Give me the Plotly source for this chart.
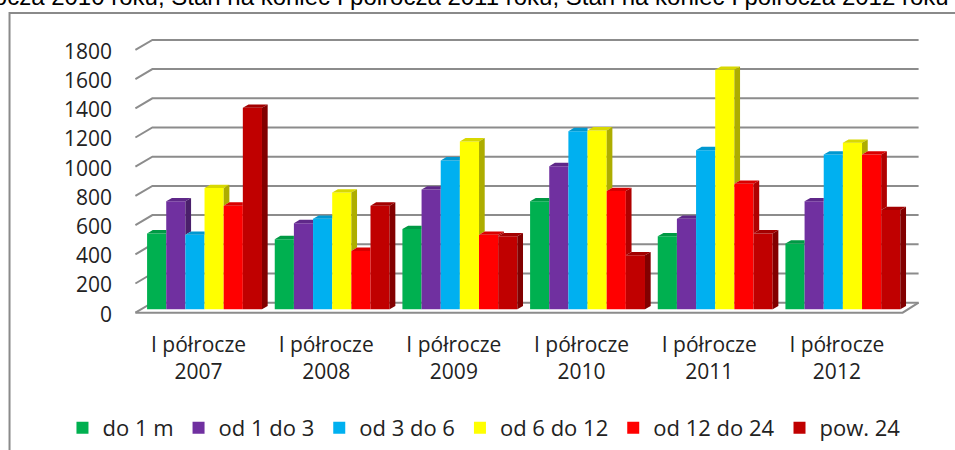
import plotly.graph_objects as go

# ---------------- data ----------------
categories = ["I półrocze<br>2007", "I półrocze<br>2008", "I półrocze<br>2009",
              "I półrocze<br>2010", "I półrocze<br>2011", "I półrocze<br>2012"]
series_names = ["do 1 m", "od 1 do 3", "od 3 do 6", "od 6 do 12", "od 12 do 24", "pow. 24"]
do_1m       = [520, 480, 550, 740, 500, 450]
od_1_do_3   = [740, 590, 820, 980, 620, 740]
od_3_do_6   = [510, 620, 1020, 1220, 1090, 1060]
od_6_do_12  = [830, 800, 1150, 1225, 1640, 1140]
od_12_do_24 = [710, 400, 510, 810, 860, 1060]
pow_24      = [1380, 710, 500, 370, 520, 680]
y_ticks = [0, 200, 400, 600, 800, 1000, 1200, 1400, 1600, 1800]
title_text = ("Stan na koniec I półrocza 2010 roku, Stan na koniec I półrocza 2011 roku, "
              "Stan na koniec I półrocza 2012 roku")

series_values = [do_1m, od_1_do_3, od_3_do_6, od_6_do_12, od_12_do_24, pow_24]
front_colors = ["#00B050", "#7030A0", "#00B0F0", "#FFFF00", "#FF0000", "#C00000"]
top_colors   = ["#009944", "#5f2889", "#0098d0", "#d8d800", "#d90000", "#a30000"]
side_colors  = ["#007a36", "#4a1f6b", "#0079a8", "#adad00", "#b00000", "#820000"]

# ---------------- geometry (pixels) ----------------
W, H = 955, 450
ML, MR, MT, MB = 132.6, 32.6, 35, 120
PLOT_W = W - ML - MR
PLOT_H = H - MT - MB
PX_PER_X = 127.8
X0_PX = 204.2
PX_PER_Y = 0.146
Y0_PX = 309.3


def xd(px):
    return (px - X0_PX) / PX_PER_X


def yd(py):
    return (Y0_PX - py) / PX_PER_Y


def px_paper_x(px):
    return (px - ML) / PLOT_W


def px_paper_y(py):
    return (H - MB - py) / PLOT_H


x_range = [xd(ML), xd(W - MR)]
y_range = [yd(H - MB), yd(MT)]

BARGAP = 0.1
n_ser = len(series_values)
bar_w = (1 - BARGAP) / n_ser
DX = 5.7 / PX_PER_X
DY = 3.35 / PX_PER_Y
FRONT_OFF = yd(312.7)
BACK_OFF = yd(302.7)

fig = go.Figure()
xs = list(range(len(categories)))
for name, vals, col in zip(series_names, series_values, front_colors):
    fig.add_trace(go.Bar(x=xs, y=vals, name=name, marker=dict(color=col, line=dict(width=0)),
                         hoverinfo="skip"))

# 3D top and side faces computed from data values
for j, (vals, tcol, scol) in enumerate(zip(series_values, top_colors, side_colors)):
    tx, ty, sx, sy = [], [], [], []
    for i, v in enumerate(vals):
        xl = i - (1 - BARGAP) / 2 + bar_w * j
        xr = xl + bar_w
        v_next = series_values[j + 1][i] if j + 1 < n_ser else 0
        if v_next >= v:
            tx += [xl, xr, xr, xl + DX, xl, None]
            ty += [v, v, v + DY, v + DY, v, None]
        else:
            tx += [xl, xr, xr + DX, xl + DX, xl, None]
            ty += [v, v, v + DY, v + DY, v, None]
            sx += [xr, xr, xr + DX, xr + DX, xr, None]
            sy += [v_next, v, v + DY, v_next + DY, v_next, None]
    fig.add_trace(go.Scatter(x=tx, y=ty, fill="toself", fillcolor=tcol, mode="lines",
                             line=dict(width=0, color=tcol), showlegend=False, hoverinfo="skip"))
    if sx:
        fig.add_trace(go.Scatter(x=sx, y=sy, fill="toself", fillcolor=scol, mode="lines",
                                 line=dict(width=0, color=scol), showlegend=False, hoverinfo="skip"))

# back-wall gridlines and floor
shapes = []
GRID_COL = "#8c8c8c"
for v in y_ticks:
    path = (f"M {xd(135)},{v + FRONT_OFF} L {xd(152)},{v + BACK_OFF} "
            f"L {xd(919)},{v + BACK_OFF}")
    shapes.append(dict(type="path", path=path, xref="x", yref="y", layer="below",
                       line=dict(color=GRID_COL, width=2)))
floor = (f"M {xd(135)},{FRONT_OFF} L {xd(903)},{FRONT_OFF} L {xd(919)},{BACK_OFF}")
shapes.append(dict(type="path", path=floor, xref="x", yref="y", layer="below",
                   line=dict(color=GRID_COL, width=2)))
# outer frame
shapes.append(dict(type="rect", xref="paper", yref="paper",
                   x0=px_paper_x(9), x1=px_paper_x(990), y0=px_paper_y(480), y1=px_paper_y(13),
                   line=dict(color="#8a8a8a", width=2), layer="below"))

fig.update_layout(
    width=W, height=H,
    margin=dict(l=ML, r=MR, t=MT, b=MB, pad=0, autoexpand=False),
    paper_bgcolor="white", plot_bgcolor="white",
    barmode="group", bargap=BARGAP, bargroupgap=0,
    font=dict(family="Open Sans", size=21, color="#222222"),
    shapes=shapes,
    xaxis=dict(range=x_range, tickmode="array", tickvals=xs, ticktext=categories,
               showgrid=False, zeroline=False, showline=False, ticks="", automargin=False,
               ticklabelshift=-6, ticklabelstandoff=0),
    yaxis=dict(range=y_range, tickmode="array", tickvals=y_ticks,
               ticktext=[str(t) for t in y_ticks], automargin=False,
               showgrid=False, zeroline=False, showline=False, ticks="",
               ticklabelshift=5, ticklabelstandoff=20),
    legend=dict(orientation="h", xref="paper", xanchor="left", x=px_paper_x(62),
                yanchor="middle", y=px_paper_y(428), font=dict(size=22),
                itemwidth=30, traceorder="normal"),
    annotations=[dict(text=title_text, xref="paper", yref="paper",
                      x=px_paper_x(951), y=px_paper_y(12.5), xanchor="right", yanchor="bottom",
                      showarrow=False, font=dict(family="Liberation Sans", size=24, color="black"))],
)

fig.write_html("out.html", config={"displayModeBar": False},
               post_script="document.body.style.margin='0';")
